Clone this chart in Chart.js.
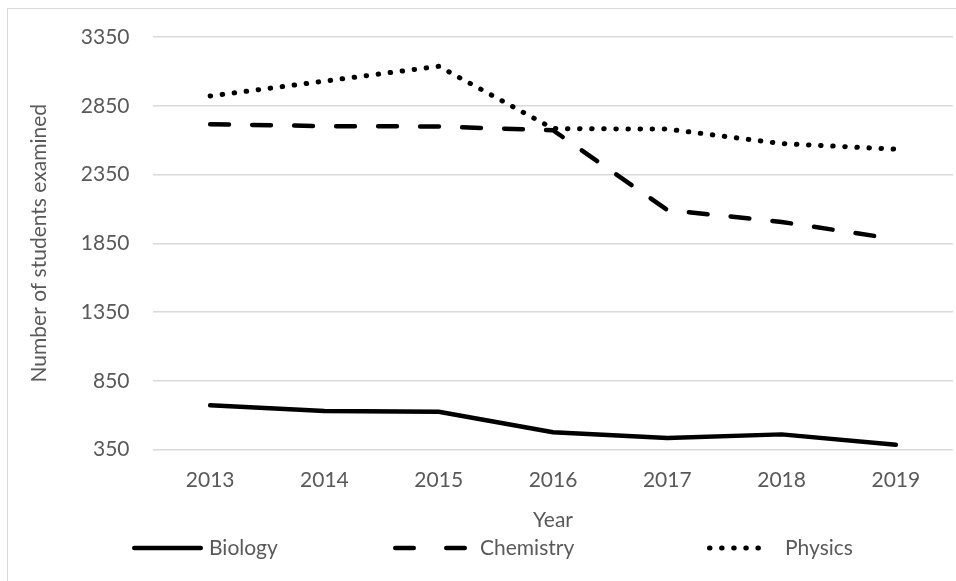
<!DOCTYPE html>
<html>
<head>
<meta charset="utf-8">
<style>
  html, body { margin: 0; padding: 0; background: #ffffff; }
  canvas { display: block; }
</style>
<script src="https://cdn.jsdelivr.net/npm/chart.js@4.4.1/dist/chart.umd.min.js"></script>
</head>
<body>
<canvas id="chart" width="956" height="581"></canvas>
<script>
// Students examined per subject, 2013-2019
const years = ['2013', '2014', '2015', '2016', '2017', '2018', '2019'];
const biology = [671, 630, 625, 475, 434, 460, 385];
const chemistry = [2716, 2702, 2699, 2672, 2092, 2005, 1880];
const physics = [2921, 3029, 3137, 2684, 2680, 2575, 2534];
const yTicks = [350, 850, 1350, 1850, 2350, 2850, 3350];

const TEXT = '#595959';
const GRID = '#d9d9d9';
const FAMILY = 'Lato, "Open Sans", "DejaVu Sans", sans-serif';
const font = { family: FAMILY, size: 21 };

const lineStyle = {
  borderColor: '#000000',
  backgroundColor: '#000000',
  borderWidth: 4.5,
  borderCapStyle: 'round',
  borderJoinStyle: 'round',
  pointRadius: 0,
  pointHoverRadius: 0,
  tension: 0,
  fill: false
};

// Light frame around the chart and the key row underneath the axis
const frameAndKey = {
  id: 'frameAndKey',
  beforeDraw(chart) {
    const c = chart.ctx;
    c.save();
    c.fillStyle = '#ffffff';
    c.fillRect(0, 0, chart.width, chart.height);
    c.strokeStyle = GRID;
    c.lineWidth = 1;
    c.strokeRect(7.5, 8.5, chart.width + 50, chart.height + 50);
    c.restore();
  },
  afterDraw(chart) {
    const c = chart.ctx;
    const y = 548;
    // visible extent of each key sample, its dash pattern, and where its text starts
    const keys = [
      { from: 132, to: 203, dash: [], textX: 209 },
      { from: 393, to: 467, dash: [18.5, 32.5], textX: 480 },
      { from: 707, to: 771, dash: [0.5, 11.6], textX: 785 }
    ];
    chart.data.datasets.forEach((ds, i) => {
      const k = keys[i];
      const half = ds.borderWidth / 2;
      c.save();
      c.strokeStyle = ds.borderColor;
      c.lineWidth = ds.borderWidth;
      c.lineCap = 'round';
      c.setLineDash(k.dash);
      c.beginPath();
      c.moveTo(k.from + half, y);
      c.lineTo(k.to - half, y);
      c.stroke();
      c.setLineDash([]);
      c.fillStyle = TEXT;
      c.font = `${font.size}px ${FAMILY}`;
      c.textAlign = 'left';
      c.textBaseline = 'middle';
      c.fillText(ds.label, k.textX, y);
      c.restore();
    });
  }
};

new Chart(document.getElementById('chart'), {
  type: 'line',
  data: {
    labels: years,
    datasets: [
      Object.assign({ label: 'Biology', data: biology }, lineStyle),
      Object.assign({ label: 'Chemistry', data: chemistry }, lineStyle, { borderDash: [18.8, 23.2] }),
      Object.assign({ label: 'Physics', data: physics }, lineStyle, { borderDash: [0.5, 11.6], borderWidth: 5 })
    ]
  },
  options: {
    responsive: false,
    animation: false,
    events: [],
    layout: { padding: { top: 37, right: 3, bottom: 0, left: 0 } },
    plugins: {
      legend: { display: false },
      tooltip: { enabled: false }
    },
    scales: {
      x: {
        offset: true,
        grid: { display: false, drawTicks: false },
        border: { display: false },
        ticks: { color: TEXT, font: font, padding: 18, maxRotation: 0 },
        title: {
          display: true,
          text: 'Year',
          color: TEXT,
          font: font,
          padding: { top: 0, bottom: 48 }
        },
        afterFit(scale) { scale.height = 131.5; }
      },
      y: {
        min: 350,
        max: 3350,
        afterBuildTicks(scale) { scale.ticks = yTicks.map(v => ({ value: v })); },
        grid: { color: GRID, lineWidth: 1.5, drawTicks: false },
        border: { display: false },
        ticks: {
          color: TEXT,
          font: font,
          padding: 23.5,
          callback: v => String(v)
        },
        title: {
          display: true,
          text: 'Number of students examined',
          color: TEXT,
          font: font,
          padding: { top: 27, bottom: 0 }
        },
        afterFit(scale) { scale.width = 153; }
      }
    }
  },
  plugins: [frameAndKey]
});
</script>
</body>
</html>
